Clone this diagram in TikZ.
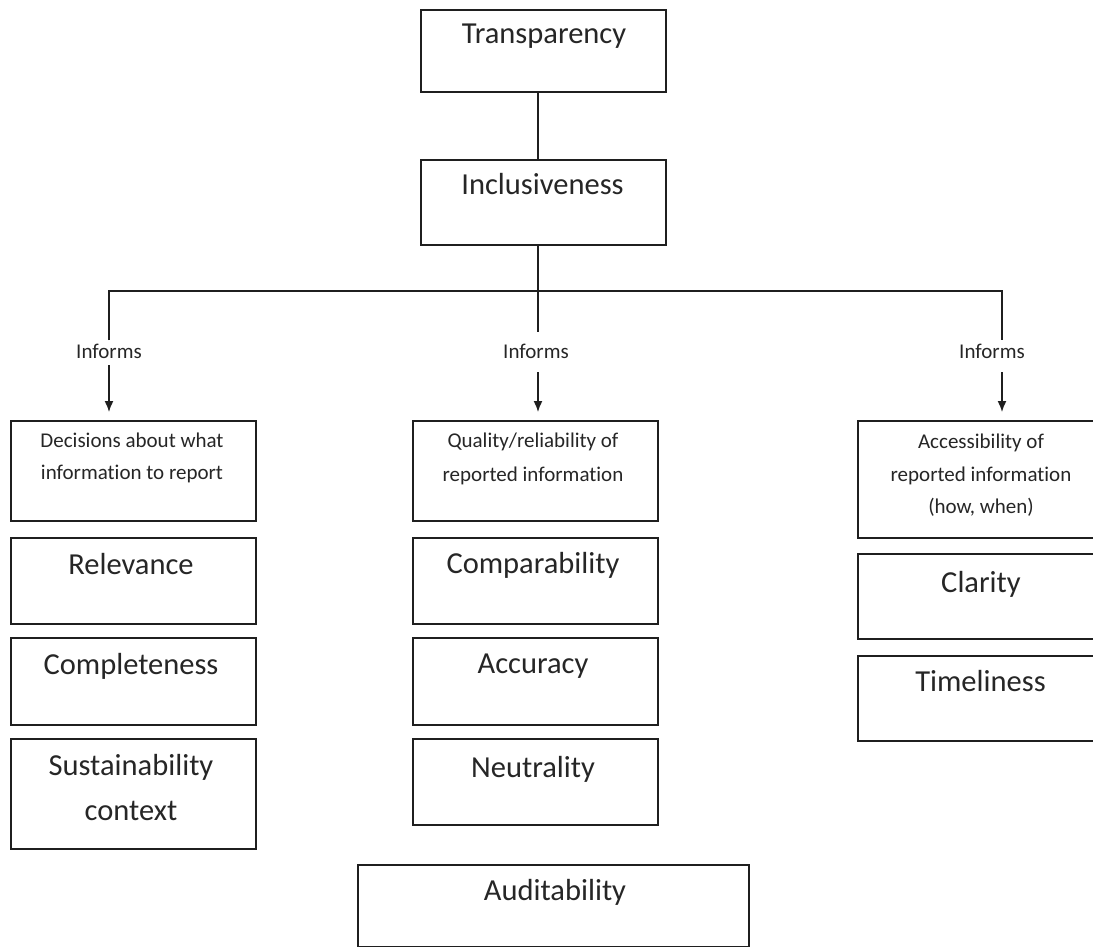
\documentclass[tikz,border=0pt]{standalone}
\usepackage{fontspec}
\setmainfont{Carlito}[Ligatures={NoCommon}]
\usetikzlibrary{arrows.meta}
\begin{document}
\begin{tikzpicture}[x=1pt,y=-1pt,
  box/.style={draw=black!88,line width=1.6pt,rectangle,inner sep=0pt,anchor=north west},
  big/.style={font=\fontsize{30.5}{36}\selectfont,text=black!85,anchor=base,inner sep=0pt},
  small/.style={font=\fontsize{21}{25}\selectfont,text=black!85,anchor=base,inner sep=0pt},
  conn/.style={draw=black!88,line width=1.5pt},
  arr/.style={conn,-{Latex[length=11pt,width=9pt]},shorten >=8pt}]
\clip (0,0) rectangle (1093,947);
\fill[white] (0,0) rectangle (1093,947);
% boxes
\node[box,minimum width=245pt,minimum height=82pt] (trans) at (420,9) {};
\node[box,minimum width=245pt,minimum height=85pt] (incl) at (420,159) {};
\node[box,minimum width=245pt,minimum height=100pt] (dec) at (10,420) {};
\node[box,minimum width=245pt,minimum height=100pt] (qual) at (412,420) {};
\node[box,minimum width=245pt,minimum height=117pt] (acc) at (857,420) {};
\node[box,minimum width=245pt,minimum height=86pt] (rel) at (10,537) {};
\node[box,minimum width=245pt,minimum height=87pt] (comp) at (10,637) {};
\node[box,minimum width=245pt,minimum height=110pt] (sust) at (10,738) {};
\node[box,minimum width=245pt,minimum height=86pt] (compar) at (412,537) {};
\node[box,minimum width=245pt,minimum height=87pt] (accu) at (412,637) {};
\node[box,minimum width=245pt,minimum height=86pt] (neut) at (412,738) {};
\node[box,minimum width=245pt,minimum height=85pt] (clar) at (857,553) {};
\node[box,minimum width=245pt,minimum height=85pt] (time) at (857,655) {};
\node[box,minimum width=391pt,minimum height=82pt] (aud) at (357,864) {};
% texts
\node[big] (ttrans) at (544,44) {Transparency};
\node[big] (tincl) at (542.5,195) {Inclusiveness};
\node[small] (tdec1) at (132,447) {Decisions about what};
\node[small] (tdec2) at (132,479) {information to report};
\node[small] (tqual1) at (533,447) {Quality/reliability of};
\node[small] (tqual2) at (533,481) {reported information};
\node[small] (tacc1) at (981,448) {Accessibility of};
\node[small] (tacc2) at (981,481) {reported information};
\node[small] (tacc3) at (981,513) {(how, when)};
\node[big] (trel) at (131,574) {Relevance};
\node[big] (tcomp) at (131,674) {Completeness};
\node[big] (tsust1) at (131,775) {Sustainability};
\node[big] (tsust2) at (131,820) {context};
\node[big] (tcompar) at (533,573) {Comparability};
\node[big] (taccu) at (533,673) {Accuracy};
\node[big] (tneut) at (533,777) {Neutrality};
\node[big] (tclar) at (981,592) {Clarity};
\node[big] (ttime) at (980.5,691) {Timeliness};
\node[big] (taud) at (555,900) {Auditability};
\node[small] (inf1) at (109,358) {Informs};
\node[small] (inf2) at (536,358) {Informs};
\node[small] (inf3) at (992,358) {Informs};
% connector points
\coordinate (hl) at (109,291);
\coordinate (hm) at (538,291);
\coordinate (hr) at (1002,291);
\coordinate (l1a) at (109,340);
\coordinate (l2a) at (538,332);
\coordinate (l3a) at (1002,340);
\coordinate (l1b) at (109,365);
\coordinate (l2b) at (538,372);
\coordinate (l3b) at (1002,372);
% connectors
\draw[conn] (trans.south -| hm) -- (incl.north -| hm);
\draw[conn] (incl.south -| hm) -- (l2a);
\draw[conn] (l1a) -- (hl) -- (hr) -- (l3a);
\draw[arr] (l1b) -- (l1b |- dec.north);
\draw[arr] (l2b) -- (l2b |- qual.north);
\draw[arr] (l3b) -- (l3b |- acc.north);
\end{tikzpicture}
\end{document}
